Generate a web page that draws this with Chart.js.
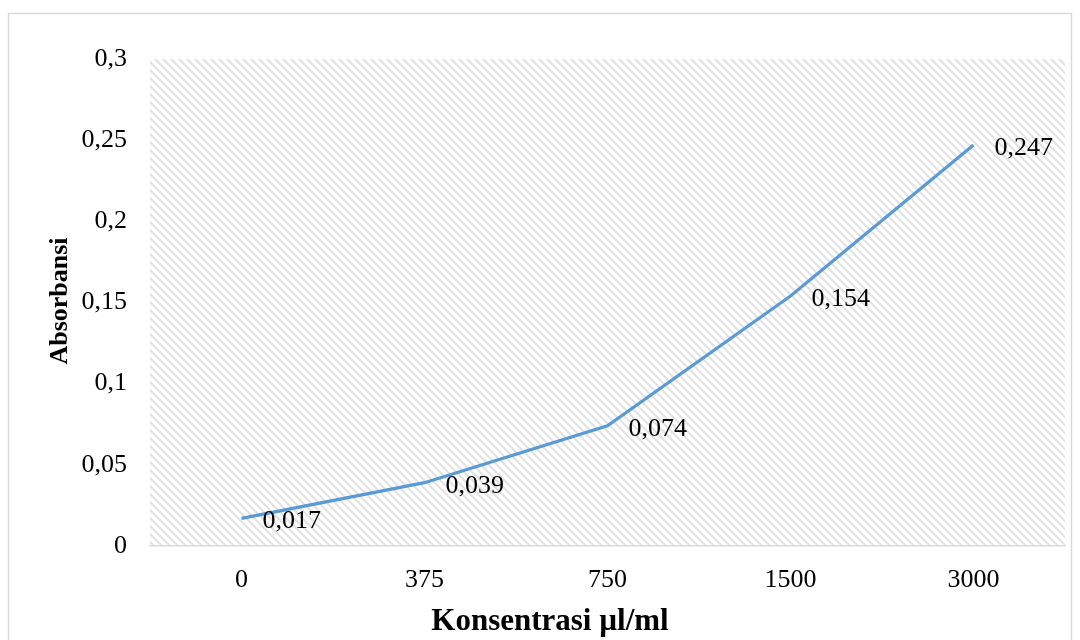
<!DOCTYPE html>
<html>
<head>
<meta charset="utf-8">
<script src="https://cdn.jsdelivr.net/npm/chart.js@4"></script>
<style>
  html, body { margin: 0; padding: 0; background: #ffffff; }
  #wrap { width: 1080px; height: 640px; position: relative; }
</style>
</head>
<body>
<div id="wrap"><canvas id="c" width="1080" height="640"></canvas></div>
<script>
// Concentrations and measured absorbance
const konsentrasi = ['0', '375', '750', '1500', '3000'];
const absorbansi = [0.017, 0.039, 0.074, 0.154, 0.247];
const yTickValues = [0, 0.05, 0.1, 0.15, 0.2, 0.25, 0.3];
const judulX = 'Konsentrasi µl/ml';
const judulY = 'Absorbansi';

const FONT = "'Liberation Serif', 'Times New Roman', serif";

function koma(v) {
  return String(Number(v.toFixed(3))).replace('.', ',');
}

// Light diagonal hatch used as the plot-area fill
function makeHatch() {
  const p = document.createElement('canvas');
  p.width = 8; p.height = 8;
  const g = p.getContext('2d');
  g.fillStyle = '#ffffff';
  g.fillRect(0, 0, 8, 8);
  g.strokeStyle = '#e2e2e2';
  g.lineWidth = 2;
  g.beginPath();
  g.moveTo(-2, -2); g.lineTo(10, 10);
  g.moveTo(-10, -2); g.lineTo(2, 10);
  g.moveTo(6, -2); g.lineTo(18, 10);
  g.stroke();
  return p;
}

const backdrop = {
  id: 'backdrop',
  beforeDraw(chart) {
    const ctx = chart.ctx;
    const a = chart.chartArea;
    ctx.save();
    ctx.fillStyle = '#ffffff';
    ctx.fillRect(0, 0, chart.width, chart.height);
    ctx.strokeStyle = '#d9d9d9';
    ctx.lineWidth = 1.5;
    ctx.strokeRect(8.5, 13.5, 1063, 640);
    ctx.fillStyle = ctx.createPattern(makeHatch(), 'repeat');
    ctx.fillRect(a.left, a.top, a.right - a.left, a.bottom - a.top);
    ctx.restore();
  }
};

// Axis titles placed where the layout wants them
const axisTitles = {
  id: 'axisTitles',
  afterDraw(chart) {
    const ctx = chart.ctx;
    ctx.save();
    ctx.fillStyle = '#000000';
    ctx.textAlign = 'center';
    ctx.textBaseline = 'middle';
    ctx.font = 'bold 31px ' + FONT;
    ctx.fillText(judulX, 550, 622);
    ctx.translate(60, 301);
    ctx.rotate(-Math.PI / 2);
    ctx.font = 'bold 26px ' + FONT;
    ctx.fillText(judulY, 0, 0);
    ctx.restore();
  }
};

const valueLabels = {
  id: 'valueLabels',
  afterDatasetsDraw(chart) {
    const ctx = chart.ctx;
    const meta = chart.getDatasetMeta(0);
    const data = chart.data.datasets[0].data;
    ctx.save();
    ctx.font = '26px ' + FONT;
    ctx.fillStyle = '#000000';
    ctx.textAlign = 'left';
    ctx.textBaseline = 'middle';
    meta.data.forEach((pt, i) => {
      ctx.fillText(koma(data[i]), pt.x + 21, pt.y + 3);
    });
    ctx.restore();
  }
};

new Chart(document.getElementById('c'), {
  type: 'line',
  data: {
    labels: konsentrasi,
    datasets: [{
      data: absorbansi,
      borderColor: '#5b9bd5',
      borderWidth: 3.2,
      pointRadius: 0,
      tension: 0,
      fill: false
    }]
  },
  options: {
    responsive: false,
    animation: false,
    layout: { padding: { left: 0, top: 59, right: 15, bottom: 0 } },
    plugins: {
      legend: { display: false },
      tooltip: { enabled: false }
    },
    scales: {
      x: {
        offset: true,
        grid: { display: false, drawTicks: false },
        border: { display: true, color: '#d9d9d9', width: 1.5 },
        ticks: {
          padding: 19,
          color: '#000000',
          font: { family: FONT, size: 26 }
        },
        afterFit(s) { s.height = 94; }
      },
      y: {
        min: 0,
        max: 0.3,
        grid: { display: false, drawTicks: false },
        border: { display: false },
        afterBuildTicks(s) { s.ticks = yTickValues.map(v => ({ value: v })); },
        ticks: {
          padding: 23,
          color: '#000000',
          font: { family: FONT, size: 26 },
          callback: v => koma(v)
        },
        afterFit(s) { s.width = 150; }
      }
    }
  },
  plugins: [backdrop, axisTitles, valueLabels]
});
</script>
</body>
</html>
